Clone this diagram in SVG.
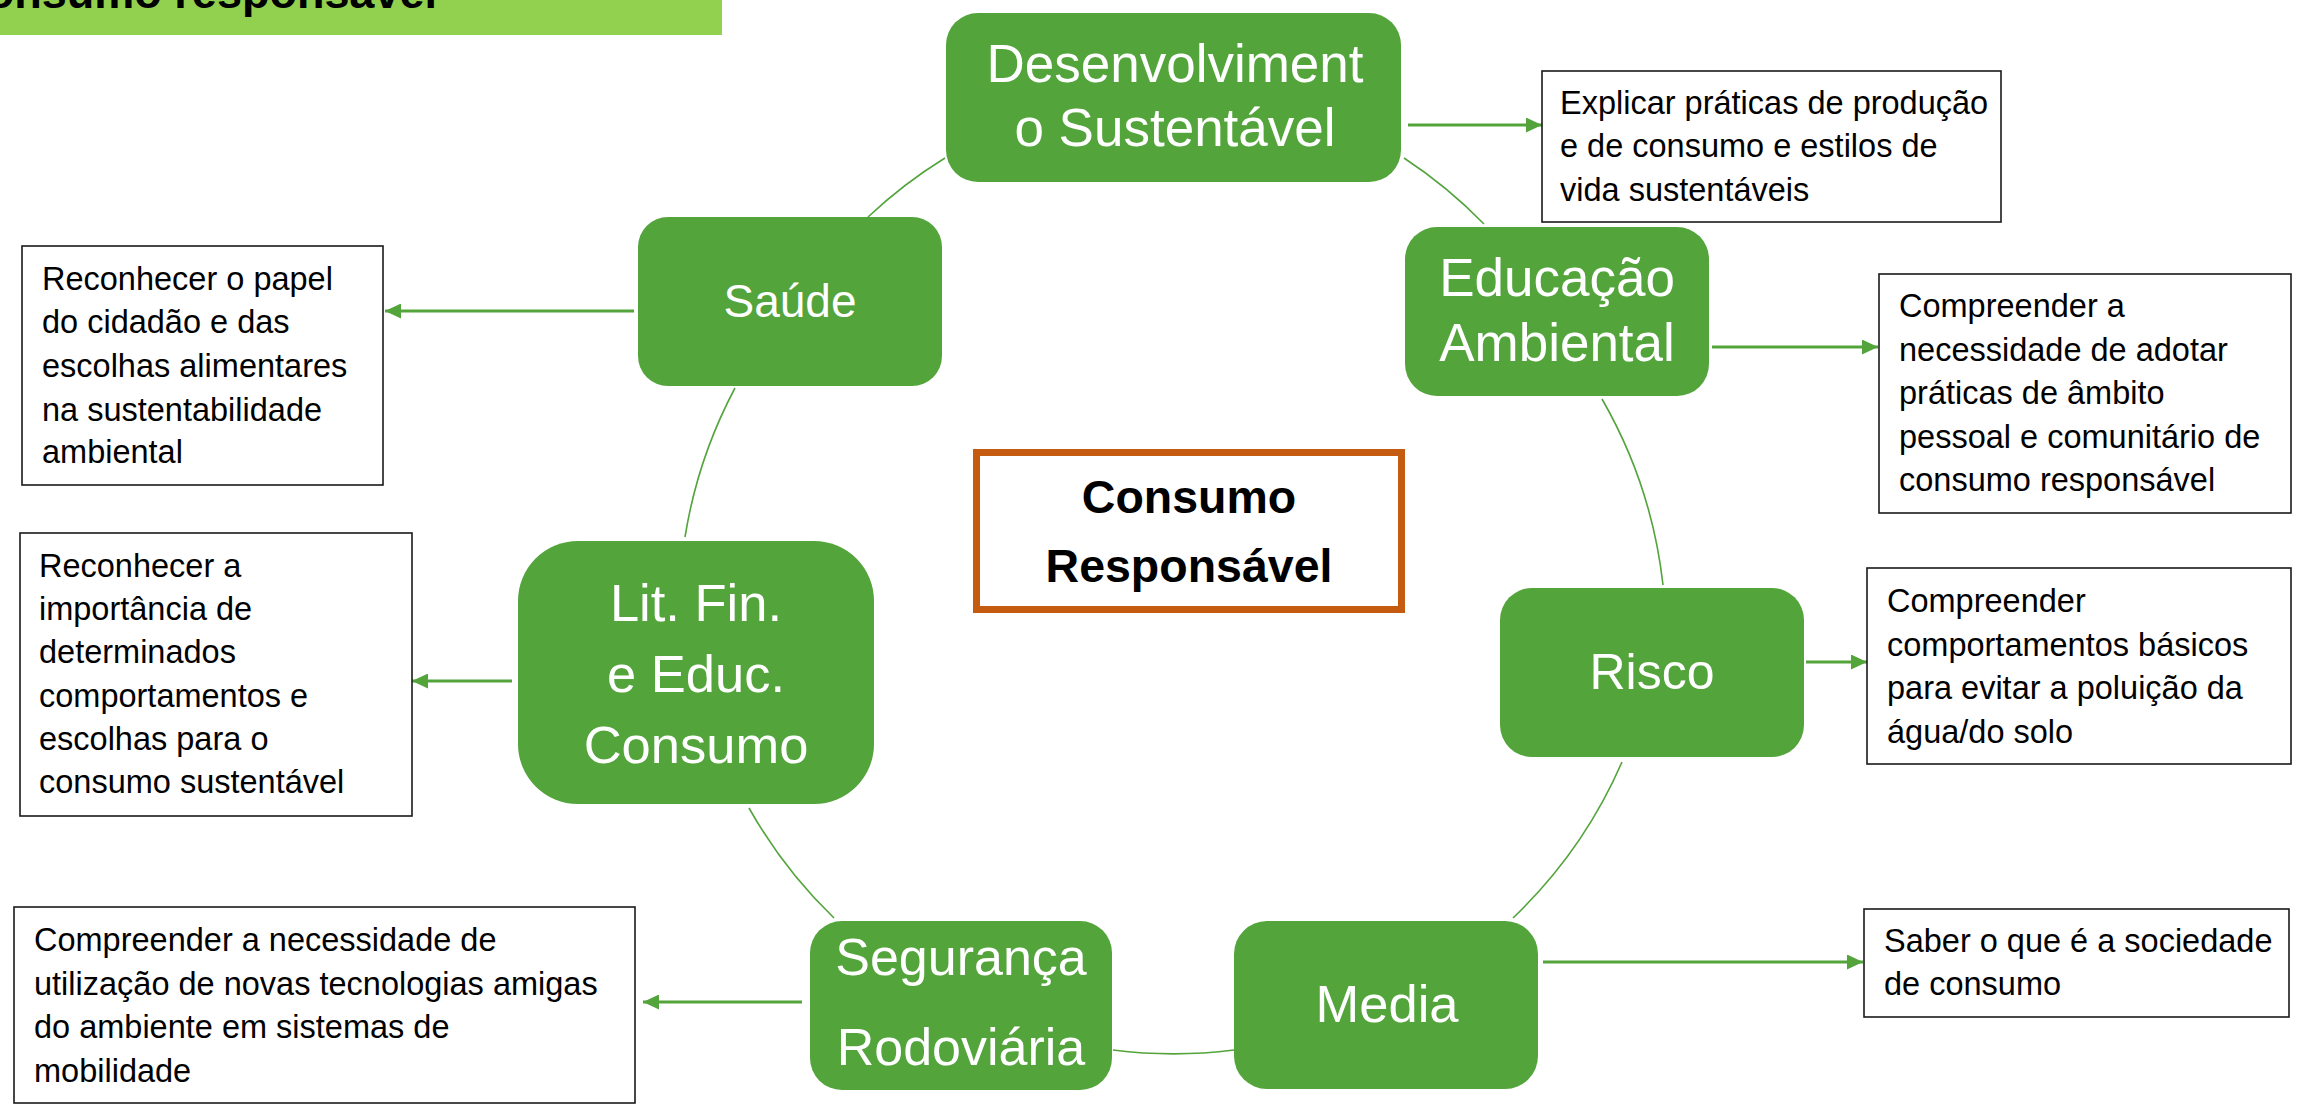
<svg xmlns="http://www.w3.org/2000/svg" width="2320" height="1114" viewBox="0 0 2320 1114">
<style>
.node{fill:#52A43B;}
.nt{font-family:"Liberation Sans",Arial,sans-serif;fill:#fff;text-anchor:middle;}
.box{fill:#fff;stroke:#1a1a1a;stroke-width:1.6;}
.bt{font-family:"Liberation Sans",Arial,sans-serif;font-size:32.5px;fill:#000;}
.arc{fill:none;stroke:#52A43B;stroke-width:1.6;}
.arr{fill:none;stroke:#52A43B;stroke-width:3.2;marker-end:url(#ah);}
</style>
<defs>
<marker id="ah" markerUnits="userSpaceOnUse" markerWidth="16" markerHeight="15" refX="16" refY="7.5" orient="auto">
<path d="M0,0 L16,7.5 L0,15 z" fill="#52A43B"/>
</marker>
</defs>
<rect width="2320" height="1114" fill="#fff"/>
<g id="header">
<rect x="0" y="0" width="722" height="35" fill="#92D050"/>
<text x="437" y="8" font-family="Liberation Sans,Arial,sans-serif" font-weight="bold" font-size="45" text-anchor="end" fill="#000">Consumo responsável</text>
</g>
<g id="connectors">
<path class="arc" d="M868,217 A480,480 0 0 1 945,158"/>
<path class="arc" d="M1404,158 A480,480 0 0 1 1484,224"/>
<path class="arc" d="M1602,399 A480,480 0 0 1 1663,585"/>
<path class="arc" d="M1622,762 A480,480 0 0 1 1513,918"/>
<path class="arc" d="M1234,1050 A480,480 0 0 1 1113,1050"/>
<path class="arc" d="M834,918 A480,480 0 0 1 749,808"/>
<path class="arc" d="M685,537 A480,480 0 0 1 735,388"/>
<line class="arr" x1="1408" y1="125" x2="1542" y2="125"/>
<line class="arr" x1="634" y1="311" x2="385" y2="311"/>
<line class="arr" x1="1712" y1="347" x2="1878" y2="347"/>
<line class="arr" x1="512" y1="681" x2="412" y2="681"/>
<line class="arr" x1="1806" y1="662" x2="1867" y2="662"/>
<line class="arr" x1="1543" y1="962" x2="1863" y2="962"/>
<line class="arr" x1="802" y1="1002" x2="643" y2="1002"/>
</g>
<g id="center">
<rect x="976.5" y="452.5" width="425" height="157" fill="#fff" stroke="#C55A11" stroke-width="7"/>
<text x="1189" y="513" font-family="Liberation Sans,Arial,sans-serif" font-weight="bold" font-size="46.5" text-anchor="middle" fill="#000">Consumo</text>
<text x="1189" y="582" font-family="Liberation Sans,Arial,sans-serif" font-weight="bold" font-size="46.5" text-anchor="middle" fill="#000">Responsável</text>
</g>
<g id="n-desenvolvimento">
<rect class="node" x="946" y="13" width="455" height="169" rx="32"/>
<text class="nt" x="1175" y="82" font-size="53">Desenvolviment</text>
<text class="nt" x="1175" y="146" font-size="53">o Sustentável</text>
</g>
<g id="n-saude">
<rect class="node" x="638" y="217" width="304" height="169" rx="30"/>
<text class="nt" x="790" y="317" font-size="46">Saúde</text>
</g>
<g id="n-educacao">
<rect class="node" x="1405" y="227" width="304" height="169" rx="32"/>
<text class="nt" x="1557" y="296" font-size="53">Educação</text>
<text class="nt" x="1557" y="361" font-size="53">Ambiental</text>
</g>
<g id="n-litfin">
<rect class="node" x="518" y="541" width="356" height="263" rx="60"/>
<text class="nt" x="696" y="621" font-size="52.5">Lit. Fin.</text>
<text class="nt" x="696" y="692" font-size="52.5">e Educ.</text>
<text class="nt" x="696" y="763" font-size="52.5">Consumo</text>
</g>
<g id="n-risco">
<rect class="node" x="1500" y="588" width="304" height="169" rx="32"/>
<text class="nt" x="1652" y="689" font-size="50">Risco</text>
</g>
<g id="n-media">
<rect class="node" x="1234" y="921" width="304" height="168" rx="33"/>
<text class="nt" x="1387" y="1022" font-size="52.5">Media</text>
</g>
<g id="n-seguranca">
<rect class="node" x="810" y="921" width="302" height="169" rx="32"/>
<text class="nt" x="961" y="975" font-size="52">Segurança</text>
<text class="nt" x="961" y="1065" font-size="52">Rodoviária</text>
</g>
<g id="b-explicar">
<rect class="box" x="1542" y="71" width="459" height="151"/>
<text class="bt" x="1560" y="114">Explicar práticas de produção</text>
<text class="bt" x="1560" y="157">e de consumo e estilos de</text>
<text class="bt" x="1560" y="201">vida sustentáveis</text>
</g>
<g id="b-saude">
<rect class="box" x="22" y="246" width="361" height="239"/>
<text class="bt" x="42" y="290">Reconhecer o papel</text>
<text class="bt" x="42" y="333">do cidadão e das</text>
<text class="bt" x="42" y="377">escolhas alimentares</text>
<text class="bt" x="42" y="421">na sustentabilidade</text>
<text class="bt" x="42" y="463">ambiental</text>
</g>
<g id="b-educacao">
<rect class="box" x="1879" y="274" width="412" height="239"/>
<text class="bt" x="1899" y="317">Compreender a</text>
<text class="bt" x="1899" y="361">necessidade de adotar</text>
<text class="bt" x="1899" y="404">práticas de âmbito</text>
<text class="bt" x="1899" y="448">pessoal e comunitário de</text>
<text class="bt" x="1899" y="491">consumo responsável</text>
</g>
<g id="b-litfin">
<rect class="box" x="20" y="533" width="392" height="283"/>
<text class="bt" x="39" y="577">Reconhecer a</text>
<text class="bt" x="39" y="620">importância de</text>
<text class="bt" x="39" y="663">determinados</text>
<text class="bt" x="39" y="707">comportamentos e</text>
<text class="bt" x="39" y="750">escolhas para o</text>
<text class="bt" x="39" y="793">consumo sustentável</text>
</g>
<g id="b-risco">
<rect class="box" x="1867" y="568" width="424" height="196"/>
<text class="bt" x="1887" y="612">Compreender</text>
<text class="bt" x="1887" y="656">comportamentos básicos</text>
<text class="bt" x="1887" y="699">para evitar a poluição da</text>
<text class="bt" x="1887" y="743">água/do solo</text>
</g>
<g id="b-media">
<rect class="box" x="1864" y="909" width="425" height="108"/>
<text class="bt" x="1884" y="952">Saber o que é a sociedade</text>
<text class="bt" x="1884" y="995">de consumo</text>
</g>
<g id="b-seguranca">
<rect class="box" x="14" y="907" width="621" height="196"/>
<text class="bt" x="34" y="951">Compreender a necessidade de</text>
<text class="bt" x="34" y="995">utilização de novas tecnologias amigas</text>
<text class="bt" x="34" y="1038">do ambiente em sistemas de</text>
<text class="bt" x="34" y="1082">mobilidade</text>
</g>
</svg>
